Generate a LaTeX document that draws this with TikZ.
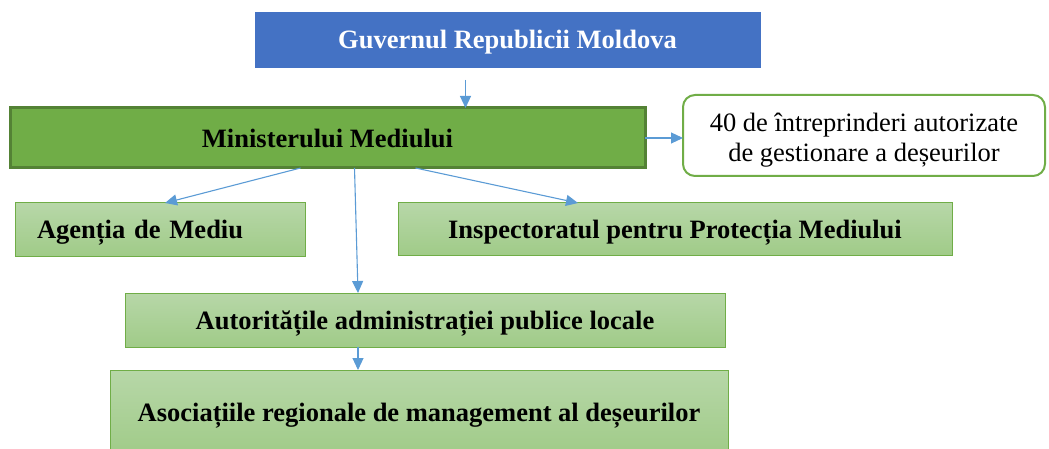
\documentclass[tikz,border=0pt]{standalone}
\usepackage{fontspec}
\setmainfont{Liberation Serif}
\usetikzlibrary{arrows.meta}
\definecolor{govblue}{HTML}{4472C4}
\definecolor{mgreen}{HTML}{70AD47}
\definecolor{mdark}{HTML}{548235}
\definecolor{ltop}{HTML}{B7D7A8}
\definecolor{lbot}{HTML}{A0CB88}
\definecolor{arrblue}{HTML}{5B9BD5}
\tikzset{
  bigbold/.style={font=\fontsize{26.5}{30}\selectfont\bfseries, text height=22pt, text depth=3.5pt},
  box/.style={draw, anchor=north west, inner sep=0pt, outer sep=0pt},
  lightbox/.style={box, draw=mgreen, line width=1pt, top color=ltop, bottom color=lbot, bigbold},
  arr/.style={draw=arrblue, line width=1.1pt, -{Triangle[length=12pt,width=11pt,fill=arrblue]}}
}
\begin{document}
\begin{tikzpicture}[x=1pt,y=-1pt]
\useasboundingbox (0,0) rectangle (1049,449);
\node[box, draw=govblue, fill=govblue, text=white, minimum width=505pt, minimum height=55pt,
  bigbold] (gov) at (255,12) {Guvernul Republicii Moldova};
\node[box, draw=mdark, line width=3pt, fill=mgreen, minimum width=635pt, minimum height=60pt,
  bigbold] (min) at (10,108) {Ministerului Mediului};
\node[box, draw=mgreen, line width=2pt, fill=white, rounded corners=12pt, minimum width=362pt,
  minimum height=81pt, align=center, font=\fontsize{26.5}{30}\selectfont] (ent) at (683,95)
  {\rule{0pt}{27pt}40 de întreprinderi autorizate\\de gestionare a deșeurilor};
\node[lightbox, text width=246pt, inner xsep=22pt, align=left, minimum height=53pt] (ag) at (15,203) {Agenția de Mediu};
\node[lightbox, minimum width=554pt, minimum height=52pt] (insp) at (398,203) {Inspectoratul pentru Protecția Mediului};
\node[lightbox, minimum width=600pt, minimum height=54pt] (aut) at (125,293) {Autoritățile administrației publice locale};
\node[lightbox, minimum width=618pt, minimum height=85pt] (asoc) at (110,370) {Asociațiile regionale de management al deșeurilor};
\coordinate (gs) at ([xshift=-42pt,yshift=-13pt]gov.south);
\draw[arr] (gs) -- (gs |- min.north);
\draw[arr] (min.east) -- (ent.west |- min.east);
\draw[arr] ([xshift=-27pt]min.south) -- ([xshift=5pt]ag.north);
\draw[arr] ([xshift=88pt]min.south) -- ([xshift=-97pt]insp.north);
\draw[arr] ([xshift=27pt]min.south) -- ([xshift=-67pt]aut.north);
\draw[arr] ([xshift=-67pt]aut.south) -- ([xshift=-61pt]asoc.north);
\end{tikzpicture}
\end{document}
